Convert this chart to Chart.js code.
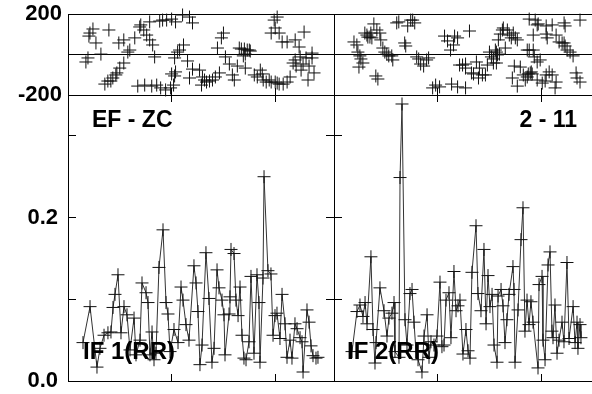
<!DOCTYPE html>
<html>
<head>
<meta charset="utf-8">
<script src="https://cdn.jsdelivr.net/npm/chart.js@4/dist/chart.umd.min.js"></script>
<style>
  html, body { margin: 0; padding: 0; background: #fff; overflow: hidden; }
  #wrap { position: relative; width: 592px; height: 394px; overflow: hidden; background: #fff; }
  canvas { position: absolute; }
  .lbl { position: absolute; font-family: 'Liberation Sans', Arial, sans-serif; font-weight: bold; color: #000; line-height: 1; white-space: nowrap; }
</style>
</head>
<body>
<div id="wrap">
  <canvas id="phase1" width="342" height="110" style="left:0px;top:0px"></canvas>
  <canvas id="phase2" width="282" height="110" style="left:326px;top:0px"></canvas>
  <canvas id="coh1" width="342" height="307" style="left:0px;top:87px"></canvas>
  <canvas id="coh2" width="282" height="307" style="left:326px;top:87px"></canvas>
</div>
<script>
'use strict';

var xMax = 257;
var xTicks = [100, 200];
var phaseTicks = [-200, 0, 200];
var cohTicks = [0, 0.1, 0.2, 0.3];
var cohLabels = ['0.0', '', '0.2', ''];
var cohMax = 0.35;

var panelTitles = ['EF - ZC', '2 - 11'];
var seriesNames = ['IF 1(RR)', 'IF 2(RR)'];

// top panels: phase, scattered crosses
var phase1X = [21.2,24.1,20.2,27.0,19.3,17.3,31.8,39.5,49.1,53.9,59.7,64.5,69.3,70.3,73.2,76.0,78.9,81.8,83.7,78.9,
  88.6,91.4,95.3,100.1,103.9,110.7,117.4,120.3,57.8,53.9,50.0,47.2,46.2,43.3,41.4,38.5,35.6,67.4,74.1,80.9,
  85.7,89.5,94.3,99.1,102.0,100.1,103.0,103.9,103.0,105.9,107.8,111.6,115.5,120.3,117.4,127.1,129.9,131.9,129.0,133.8,
  136.7,139.6,142.4,146.3,148.2,150.2,144.4,152.1,155.9,158.8,160.7,163.6,165.5,167.5,170.4,171.3,173.2,175.2,176.1,169.4,
  171.3,180.0,182.9,185.8,187.7,188.6,191.5,194.4,196.3,200.2,202.1,204.0,207.9,211.7,214.6,217.5,219.5,220.4,196.3,199.2,
  200.2,204.0,202.1,206.9,211.7,219.5,224.3,223.3,228.1,230.0,232.9,235.8,237.7,231.9,235.8,227.1,225.2];
var phase1Y = [106,126,91,57,-17,-37,2,121,57,72,22,82,136,146,121,96,72,47,-12,161,
  165,170,170,175,161,195,185,156,12,-42,-67,-91,-101,-116,-131,-131,-146,-156,-151,-156,
  -151,-165,-175,-165,-151,-96,-106,-86,-17,12,22,47,-32,-72,-116,-77,-111,-126,-151,-136,
  -131,-126,-111,-91,82,106,32,-12,-47,-101,-126,-57,32,27,27,2,22,22,17,-7,
  -67,-101,-111,-77,-96,-126,-136,-126,-136,-136,-141,-146,-146,-136,-111,-42,-27,-57,106,170,
  131,106,185,62,62,72,-12,37,111,-17,-57,-17,-91,-126,7,-47,-77];

var phase2X = [19.3,22.1,23.1,25.0,26.0,27.9,24.1,29.8,31.8,32.7,34.7,35.6,36.6,38.5,41.4,44.3,45.2,47.2,49.1,51.0,
  52.9,55.8,56.8,40.4,42.4,60.6,62.6,68.3,69.3,71.2,74.1,76.0,78.0,79.9,81.8,83.7,86.6,89.5,91.4,95.3,
  98.2,102.0,106.8,109.7,112.6,115.5,116.5,119.4,121.3,124.2,127.1,127.1,130.9,132.8,134.8,137.6,139.6,140.5,143.4,146.3,
  148.2,150.2,152.1,154.0,155.9,156.9,158.8,160.7,162.7,163.6,167.5,169.4,171.3,173.2,175.2,177.1,165.5,159.8,157.9,154.0,
  156.9,186.7,188.6,192.5,193.5,196.3,199.2,174.2,180.0,182.9,184.8,186.7,187.7,189.6,190.6,191.5,196.3,201.2,204.0,205.0,
  207.9,210.8,214.6,188.6,194.4,196.3,197.3,205.0,210.8,214.6,217.5,220.4,222.3,223.3,225.2,228.1,231.0,233.9,234.8,237.7,
  222.3,223.3,192.5,205.0,206.0,113.6,119.4,127.1,177.1,172.3,213.6,237.7];
var phase2Y = [62,47,12,-7,-22,-42,-62,106,96,86,86,106,82,151,121,106,72,32,12,2,
  -7,-7,-27,-106,-121,156,161,57,42,141,170,170,156,-12,-22,-47,-57,-27,-17,-165,
  -151,-160,91,67,22,47,91,82,-52,-52,-47,-67,116,-91,-96,-37,-116,-67,-101,-101,
  -52,12,-12,-22,22,12,72,101,121,131,121,96,82,106,82,72,32,2,-2,-42,
  -42,22,22,22,-12,-37,-27,-57,-62,-101,-126,-111,-96,-91,-86,-96,-126,-141,-131,-101,
  -86,-101,-136,175,170,146,151,141,146,96,62,57,57,42,22,12,-7,-91,-116,170,
  156,141,96,101,82,-146,-160,-165,-156,-116,-165,-136];

// bottom panels: coherence line with crosses
var coh1X = [14.5,21.3,28.0,30.9,34.8,38.6,41.5,43.5,45.4,48.3,51.2,54.1,57.0,59.9,63.8,65.7,69.6,71.5,75.4,77.3,
  79.2,81.2,83.1,85.0,87.9,91.8,94.7,96.6,98.6,102.4,106.3,109.2,111.1,114.0,116.9,121.7,123.7,125.6,127.5,129.5,
  133.3,136.2,139.1,141.1,144.0,145.9,148.8,150.7,151.7,155.6,156.5,157.5,160.4,162.3,164.3,166.2,168.1,170.0,172.0,174.9,
  176.8,179.7,182.6,184.5,185.5,188.4,189.4,193.2,196.1,198.1,200.0,201.9,204.8,206.8,209.7,211.6,214.5,216.4,219.3,221.3,
  224.2,226.1,227.1,230.9,232.9,234.8,236.7,239.6,241.5];
var coh1Y = [0.047,0.091,0.017,0.040,0.056,0.059,0.060,0.090,0.106,0.130,0.059,0.091,0.081,0.038,0.077,0.032,0.050,0.120,0.108,0.096,
  0.032,0.060,0.026,0.034,0.139,0.185,0.096,0.082,0.036,0.063,0.047,0.115,0.099,0.069,0.050,0.141,0.120,0.085,0.020,0.044,
  0.157,0.101,0.023,0.040,0.136,0.114,0.099,0.081,0.032,0.082,0.103,0.161,0.156,0.099,0.080,0.115,0.056,0.028,0.026,0.048,
  0.128,0.034,0.130,0.096,0.023,0.126,0.250,0.135,0.131,0.056,0.080,0.083,0.052,0.106,0.070,0.029,0.050,0.028,0.070,0.064,
  0.053,0.048,0.011,0.087,0.072,0.043,0.031,0.028,0.029];

var coh2X = [17.4,22.2,25.1,28.0,30.0,31.9,35.7,37.7,39.6,40.6,44.4,48.3,51.2,53.1,56.0,58.0,58.9,62.8,63.8,65.7,
  68.6,70.5,73.4,75.4,77.3,79.2,81.2,85.0,87.0,89.9,91.8,93.7,96.6,99.5,102.4,104.3,106.3,108.2,111.1,113.0,
  115.9,117.9,119.8,121.7,124.6,127.5,129.5,131.4,133.3,137.2,139.1,142.0,144.9,146.9,148.8,150.7,152.7,154.6,157.5,158.5,
  161.4,163.3,165.2,167.1,169.1,172.9,173.9,174.9,177.8,180.7,182.6,184.5,186.5,188.4,190.3,192.3,197.1,198.1,201.0,201.9,
  203.9,206.8,208.7,210.6,211.6,213.5,215.5,217.4,220.3,222.2,225.1,227.1,231.0,232.9,234.8,235.7,237.7,238.6];
var coh2Y = [0.036,0.085,0.093,0.079,0.096,0.070,0.152,0.063,0.022,0.047,0.114,0.086,0.055,0.077,0.083,0.096,0.036,0.029,0.249,0.339,
  0.075,0.044,0.107,0.112,0.072,0.036,0.026,0.011,0.055,0.081,0.029,0.048,0.044,0.055,0.121,0.042,0.044,0.099,0.108,0.053,
  0.134,0.086,0.092,0.099,0.033,0.063,0.037,0.028,0.133,0.190,0.107,0.086,0.161,0.070,0.129,0.091,0.106,0.044,0.023,0.104,
  0.112,0.092,0.047,0.075,0.106,0.140,0.112,0.023,0.087,0.173,0.212,0.061,0.099,0.069,0.097,0.072,0.016,0.118,0.128,0.050,
  0.026,0.142,0.158,0.061,0.053,0.093,0.034,0.050,0.072,0.048,0.145,0.052,0.091,0.047,0.072,0.040,0.069,0.053];

var tickFont = { family: "'Liberation Sans', Arial, sans-serif", size: 22, weight: 'bold' };

function pairs(xs, ys) {
  var out = [];
  for (var i = 0; i < Math.min(xs.length, ys.length); i++) {
    out.push({ x: xs[i], y: ys[i] });
  }
  return out;
}

function setTicks(values) {
  return function (scale) {
    scale.ticks = values.map(function (v) { return { value: v }; });
  };
}

function setSize(w, h) {
  return function (scale) {
    if (w !== null) scale.width = w;
    if (h !== null) scale.height = h;
    scale.paddingTop = 0;
    scale.paddingBottom = 0;
    scale.paddingLeft = 0;
    scale.paddingRight = 0;
  };
}

var baseOptions = {
  responsive: false,
  animation: false,
  events: [],
  plugins: { legend: { display: false }, tooltip: { enabled: false } }
};

function makePhase(id, xs, ys, isLeft) {
  new Chart(document.getElementById(id), {
    type: 'scatter',
    data: {
      datasets: [{
        data: pairs(xs, ys),
        pointStyle: 'cross',
        pointRadius: 6.5,
        pointHoverRadius: 6.5,
        pointBorderColor: '#111',
        pointBorderWidth: 1,
        clip: false
      }]
    },
    options: Object.assign({}, baseOptions, {
      layout: { padding: { top: 14, left: 0, right: 0, bottom: 0 } },
      scales: {
        x: {
          type: 'linear', position: 'bottom', min: 0, max: xMax,
          afterBuildTicks: setTicks(xTicks), afterFit: setSize(null, 15),
          ticks: { display: false },
          grid: { drawOnChartArea: false, tickLength: -7, color: '#000' },
          border: { display: false }
        },
        y: {
          type: 'linear', position: 'left', min: -200, max: 200,
          afterBuildTicks: setTicks(phaseTicks), afterFit: setSize(isLeft ? 68 : 8, null),
          ticks: {
            display: isLeft, padding: 6, color: '#000', font: tickFont,
            callback: function (v) { return v === 0 ? '' : String(v); }
          },
          grid: { color: '#000', drawTicks: false },
          border: { color: '#000' }
        },
        y2: {
          type: 'linear', position: 'right', min: -200, max: 200,
          afterBuildTicks: setTicks(phaseTicks), afterFit: setSize(8, null),
          ticks: { display: false },
          grid: { drawOnChartArea: false, tickLength: -7, color: '#000' },
          border: { color: '#000' }
        }
      }
    })
  });
}

function makeCoh(id, xs, ys, isLeft) {
  new Chart(document.getElementById(id), {
    type: 'line',
    data: {
      datasets: [{
        data: pairs(xs, ys),
        borderColor: '#333',
        borderWidth: 1,
        fill: false,
        tension: 0,
        pointStyle: 'cross',
        pointRadius: 6.5,
        pointHoverRadius: 6.5,
        pointBorderColor: '#111',
        pointBorderWidth: 1,
        clip: false
      }]
    },
    options: Object.assign({}, baseOptions, {
      layout: { padding: 0 },
      scales: {
        x: {
          type: 'linear', position: 'bottom', min: 0, max: xMax,
          afterBuildTicks: setTicks(xTicks), afterFit: setSize(null, 13),
          ticks: { display: false },
          grid: { drawOnChartArea: false, tickLength: -7, color: '#000' },
          border: { color: '#000' }
        },
        xt: {
          type: 'linear', position: 'top', min: 0, max: xMax,
          afterBuildTicks: setTicks(xTicks), afterFit: setSize(null, 8),
          ticks: { display: false },
          grid: { drawOnChartArea: false, tickLength: -7, color: '#000' },
          border: { display: false }
        },
        y: {
          type: 'linear', position: 'left', min: 0, max: cohMax,
          afterBuildTicks: setTicks(cohTicks), afterFit: setSize(isLeft ? 68 : 8, null),
          ticks: {
            display: isLeft, padding: 18, color: '#000', font: tickFont,
            callback: function (v, i) { return cohLabels[i]; }
          },
          grid: { drawOnChartArea: false, tickLength: -8, color: '#000' },
          border: { color: '#000' }
        },
        y2: {
          type: 'linear', position: 'right', min: 0, max: cohMax,
          afterBuildTicks: setTicks(cohTicks), afterFit: setSize(8, null),
          ticks: { display: false },
          grid: { drawOnChartArea: false, tickLength: -8, color: '#000' },
          border: { color: '#000' }
        }
      }
    })
  });
}

makePhase('phase1', phase1X, phase1Y, true);
makePhase('phase2', phase2X, phase2Y, false);
makeCoh('coh1', coh1X, coh1Y, true);
makeCoh('coh2', coh2X, coh2Y, false);

function addLabel(text, css) {
  var d = document.createElement('div');
  d.className = 'lbl';
  d.textContent = text;
  for (var k in css) d.style[k] = css[k];
  document.getElementById('wrap').appendChild(d);
}

addLabel(panelTitles[0], { left: '92px', top: '108px', fontSize: '23px' });
addLabel(panelTitles[1], { right: '15px', top: '108px', fontSize: '23px' });
addLabel(seriesNames[0], { left: '83px', top: '339px', fontSize: '24px' });
addLabel(seriesNames[1], { left: '347px', top: '339px', fontSize: '24px' });
</script>
</body>
</html>
